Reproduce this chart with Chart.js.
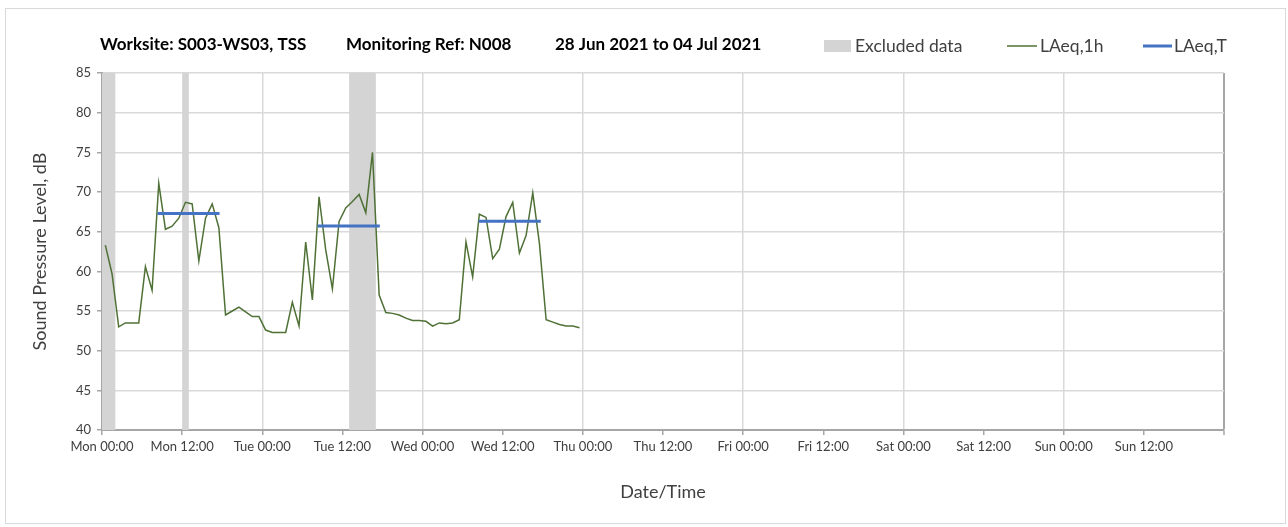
<!DOCTYPE html>
<html>
<head>
<meta charset="utf-8">
<script src="https://cdn.jsdelivr.net/npm/chart.js@4.4.0/dist/chart.umd.min.js"></script>
<style>
  html, body { margin: 0; padding: 0; background: #ffffff; }
  #wrap { width: 1288px; height: 527px; }
</style>
</head>
<body>
<div id="wrap"><canvas id="c" width="1288" height="527"></canvas></div>
<script>
// ---- Data ----
const titleParts = ["Worksite: S003-WS03, TSS", "Monitoring Ref: N008", "28 Jun 2021 to 04 Jul 2021"];
const tickLabels = ["Mon 00:00","Mon 12:00","Tue 00:00","Tue 12:00","Wed 00:00","Wed 12:00",
  "Thu 00:00","Thu 12:00","Fri 00:00","Fri 12:00","Sat 00:00","Sat 12:00","Sun 00:00","Sun 12:00",""];
// hourly LAeq,1h values from Mon 00:00 (hour index 0)
const laeq1h = [
  63.3, 59.7, 53.0, 53.5, 53.5, 53.5, 60.6, 57.6, 71.1, 65.3, 65.7, 66.7,
  68.7, 68.5, 61.3, 66.7, 68.5, 65.5, 54.5, 55.0, 55.5, 54.9, 54.3, 54.3,
  52.6, 52.3, 52.3, 52.3, 56.1, 53.1, 63.7, 56.4, 69.4, 62.7, 57.8, 66.3,
  68.0, 68.8, 69.7, 67.4, 75.0, 57.0, 54.8, 54.7, 54.5, 54.1, 53.8, 53.8,
  53.7, 53.1, 53.5, 53.4, 53.5, 53.9, 63.7, 59.3, 67.2, 66.8, 61.6, 62.8,
  66.9, 68.7, 62.3, 64.5, 69.9, 63.5, 53.9, 53.6, 53.3, 53.1, 53.1, 52.9
];
// LAeq,T periods (hours from Mon 00:00)
const periodStart = [8.3, 32.3, 56.4];
const periodEnd   = [17.6, 41.6, 65.7];
const laeqT       = [67.3, 65.7, 66.3];
// excluded data periods (hours from Mon 00:00)
const exclStart = [0, 12, 37];
const exclEnd   = [2, 13, 41];

// ---- Build datasets ----
const greenPts = laeq1h.map((v, i) => ({ x: i + 0.5, y: v }));
const bluePts = [];
laeqT.forEach((v, i) => {
  bluePts.push({ x: periodStart[i], y: v });
  bluePts.push({ x: periodEnd[i], y: v });
  if (i < laeqT.length - 1) bluePts.push({ x: (periodEnd[i] + periodStart[i + 1]) / 2, y: null });
});

const FONT = "Lato, 'Open Sans', sans-serif";
const GREEN = '#4f7136';
const BLUE = '#4472c4';
const BAND = '#d4d4d4';
const GRID = '#d9d9d9';
const AXIS = '#a6a6a6';
const TEXT = '#404040';

const bandsPlugin = {
  id: 'bands',
  beforeDatasetsDraw(chart) {
    const { ctx, chartArea, scales } = chart;
    ctx.save();
    ctx.fillStyle = BAND;
    exclStart.forEach((s, i) => {
      const x0 = scales.x.getPixelForValue(s);
      const x1 = scales.x.getPixelForValue(exclEnd[i]);
      ctx.fillRect(x0, chartArea.top, x1 - x0, chartArea.bottom - chartArea.top);
    });
    ctx.restore();
  }
};

const decorPlugin = {
  id: 'decor',
  beforeDraw(chart) {
    const ctx = chart.ctx;
    ctx.save();
    ctx.fillStyle = '#ffffff';
    ctx.fillRect(0, 0, chart.width, chart.height);
    ctx.strokeStyle = GRID;
    ctx.lineWidth = 1;
    ctx.strokeRect(5.5, 8.5, 1280, 515);
    ctx.restore();
  },
  afterDraw(chart) {
    const ctx = chart.ctx;
    ctx.save();
    // title: fit each part into the span it occupies
    ctx.fillStyle = '#000000';
    ctx.textBaseline = 'middle';
    ctx.textAlign = 'left';
    const tx = [100, 346, 555];
    const tw = [213, 174, 215];
    titleParts.forEach((t, i) => {
      ctx.font = "bold 15px " + FONT;
      const m = ctx.measureText(t).width;
      const size = Math.min(17, 15 * tw[i] / m);
      ctx.font = "bold " + size.toFixed(2) + "px " + FONT;
      ctx.fillText(t, tx[i], 45);
    });
    // legend
    ctx.font = "17.5px " + FONT;
    ctx.fillStyle = BAND;
    ctx.fillRect(824, 40, 27, 12);
    ctx.fillStyle = TEXT;
    ctx.fillText('Excluded data', 855, 46);
    ctx.strokeStyle = chart.data.datasets[0].borderColor;
    ctx.lineWidth = 1.5;
    ctx.beginPath(); ctx.moveTo(1007, 46); ctx.lineTo(1037, 46); ctx.stroke();
    ctx.fillText(chart.data.datasets[0].label, 1040, 46);
    ctx.strokeStyle = chart.data.datasets[1].borderColor;
    ctx.lineWidth = 3;
    ctx.beginPath(); ctx.moveTo(1143, 46); ctx.lineTo(1172, 46); ctx.stroke();
    ctx.fillText(chart.data.datasets[1].label, 1174, 46);
    ctx.restore();
  }
};

new Chart(document.getElementById('c'), {
  type: 'line',
  data: {
    datasets: [
      { label: 'LAeq,1h', data: greenPts, borderColor: GREEN, borderWidth: 1.5,
        pointRadius: 0, tension: 0, fill: false, order: 2 },
      { label: 'LAeq,T', data: bluePts, borderColor: BLUE, borderWidth: 3,
        pointRadius: 0, tension: 0, fill: false, spanGaps: false, order: 1 }
    ]
  },
  options: {
    responsive: false,
    animation: false,
    events: [],
    layout: { padding: { left: 0, top: 73, right: 64, bottom: 0 } },
    plugins: { legend: { display: false }, title: { display: false }, tooltip: { enabled: false } },
    scales: {
      x: {
        type: 'linear', min: 0, max: 168,
        afterFit(s) { s.height = 97; },
        afterBuildTicks(s) { s.ticks = tickLabels.map((_, i) => ({ value: i * 12 })); },
        ticks: {
          autoSkip: false, maxRotation: 0, padding: 4,
          color: TEXT, font: { family: FONT, size: 13 },
          callback: (v) => tickLabels[Math.round(v / 12)]
        },
        grid: {
          drawTicks: true, tickLength: 5,
          color: (c) => (c.tick && c.tick.value === 168) ? AXIS : ((c.tick && c.tick.value % 24 === 0) ? GRID : 'rgba(0,0,0,0)'),
          lineWidth: (c) => (c.tick && c.tick.value === 168) ? 2 : 1.5,
          tickColor: AXIS, tickWidth: 1.5
        },
        border: { color: AXIS, width: 2 },
        title: { display: true, text: 'Date/Time', color: TEXT, align: 'center',
          font: { family: FONT, size: 18 }, padding: { top: 0, bottom: 24 } }
      },
      y: {
        min: 40, max: 85,
        afterFit(s) { s.width = 102; },
        ticks: { stepSize: 5, color: TEXT, padding: 6, font: { family: FONT, size: 13 } },
        grid: { color: GRID, lineWidth: 1.5, drawTicks: true, tickLength: 5, tickColor: AXIS, tickWidth: 1.5 },
        border: { color: AXIS, width: 2 },
        title: { display: true, text: 'Sound Pressure Level, dB', color: TEXT,
          font: { family: FONT, size: 18 }, padding: { top: 29, bottom: 0 } }
      }
    }
  },
  plugins: [decorPlugin, bandsPlugin]
});
</script>
</body>
</html>
